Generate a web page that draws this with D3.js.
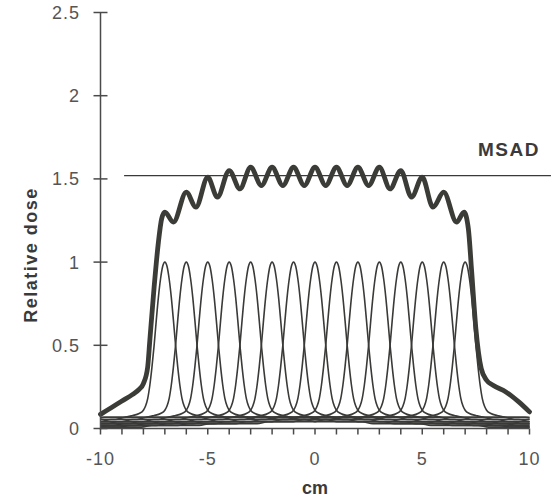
<!DOCTYPE html>
<html><head><meta charset="utf-8">
<script src="https://cdn.jsdelivr.net/npm/d3@7/dist/d3.min.js"></script>
<style>
body{margin:0;background:#fff;}
svg{display:block;font-family:"Liberation Sans",Arial,sans-serif;}
</style></head>
<body>
<svg id="c" width="552" height="497"></svg>
<script>
// ---- data ----
const sliceCenters = [-7,-6,-5,-4,-3,-2,-1,0,1,2,3,4,5,6,7];
// single-slice profile (one side, symmetric), distance from centre in cm
const profileOffsets = [0, 0.1, 0.2, 0.3, 0.4, 0.5, 0.6, 0.7, 0.8, 0.9, 1.0, 1.2, 1.5, 1.9];
const profileValues  = [1.0, 0.975, 0.9, 0.79, 0.65, 0.5, 0.37, 0.26, 0.18, 0.135, 0.11, 0.09, 0.078, 0.068];
// scatter-tail staircase: plateau start, plateau end (cm from centre), level
const tailStart = [1.9, 4.3, 7.0, 9.7, 12.4, 15.1];
const tailEnd   = [3.8, 6.5, 9.2, 11.9, 14.6, 18.0];
const tailLevel = [0.068, 0.054, 0.041, 0.029, 0.018, 0.008];
// multiple-scan (summed) dose profile
const sumX = [-10,-9.5,-9,-8.5,-8.2,-8.0,-7.8,-7.7,-7.5,-7.3,-7.15,-7.0,-6.6,-6.0,-5.55,-5.0,-4.55,-4.0,-3.5,-3.0,-2.5,-2,-1.5,-1,-0.5,0,0.5,1,1.5,2,2.5,3,3.5,4,4.5,5,5.5,6,6.6,6.95,7.15,7.3,7.5,7.75,8.0,8.3,8.9,9.5,10];
const sumY = [0.085,0.125,0.165,0.205,0.235,0.27,0.37,0.53,0.85,1.12,1.26,1.30,1.24,1.42,1.33,1.51,1.39,1.55,1.44,1.57,1.46,1.57,1.46,1.57,1.46,1.57,1.46,1.57,1.46,1.57,1.46,1.57,1.44,1.55,1.39,1.51,1.33,1.42,1.24,1.30,1.2,0.95,0.6,0.36,0.29,0.26,0.22,0.16,0.10];
const msad = 1.52;
const msadRange = [-8.9, 11];
const xTicks = [-10,-5,0,5,10];
const xMinorTicks = d3.range(-10, 11, 1);
const yTicks = [0,0.5,1,1.5,2,2.5];
const yTickLabels = ["0","0.5","1","1.5","2","2.5"];

// ---- drawing ----
const svg = d3.select("#c");
const x = d3.scaleLinear().domain([-10,10]).range([100.5,529.5]);
const y = d3.scaleLinear().domain([0,2.5]).range([428.5,12.5]);
const ink = "#3a3a38";

svg.append("defs").append("clipPath").attr("id","plot")
  .append("rect").attr("x",x(-10)).attr("y",0).attr("width",x(10)-x(-10)).attr("height",y(0)+1);

// one-sided profile incl. staircase tails
const half = profileOffsets.map((o,i)=>[o, profileValues[i]]);
tailStart.forEach((s,i)=>{
  if (i>0) half.push([s, tailLevel[i]]);
  half.push([tailEnd[i], tailLevel[i]]);
});
const full = half.slice(1).map(d=>[-d[0], d[1]]).reverse().concat(half);

const g = svg.append("g").attr("clip-path","url(#plot)");
const pline = d3.line().x(d=>x(d[0])).y(d=>y(d[1])).curve(d3.curveMonotoneX);
sliceCenters.forEach(c=>{
  g.append("path").datum(full.map(d=>[d[0]+c, d[1]]))
    .attr("d", pline).attr("fill","none").attr("stroke",ink).attr("stroke-width",1.6);
});

// summed profile
svg.append("path").datum(sumX.map((v,i)=>[v,sumY[i]]))
  .attr("d", pline).attr("fill","none").attr("stroke","#3b3b37").attr("stroke-width",4.8)
  .attr("stroke-linejoin","round").attr("stroke-linecap","round");

// MSAD line
svg.append("line").attr("x1",x(msadRange[0])).attr("x2",x(msadRange[1]))
  .attr("y1",y(msad)).attr("y2",y(msad)).attr("stroke",ink).attr("stroke-width",1.3);
svg.append("text").attr("x",509).attr("y",y(1.64)).attr("text-anchor","middle")
  .attr("font-size",19).attr("font-weight","bold").attr("letter-spacing",1.5).attr("fill","#3a3a3a").text("MSAD");

// axes
const axColor = "#4a4a4a";
svg.append("line").attr("x1",x(-10)).attr("x2",x(-10)).attr("y1",y(2.5)).attr("y2",y(0)+1).attr("stroke",axColor).attr("stroke-width",1.5);
svg.append("line").attr("x1",x(-10)).attr("x2",x(10)).attr("y1",y(0)).attr("y2",y(0)).attr("stroke",axColor).attr("stroke-width",1.5);
yTicks.forEach((t,i)=>{
  svg.append("line").attr("x1",x(-10)-7).attr("x2",x(-10)+7).attr("y1",y(t)).attr("y2",y(t)).attr("stroke",axColor).attr("stroke-width",1.5);
  svg.append("text").attr("x",80).attr("y",y(t)).attr("dy","0.36em").attr("text-anchor","end")
    .attr("font-size",18).attr("letter-spacing",1).attr("fill","#555").text(yTickLabels[i]);
});
xMinorTicks.forEach(t=>{
  svg.append("line").attr("x1",x(t)).attr("x2",x(t)).attr("y1",y(0)).attr("y2",y(0)+6).attr("stroke",axColor).attr("stroke-width",1.5);
});
xTicks.forEach(t=>{
  svg.append("text").attr("x",x(t)).attr("y",465).attr("text-anchor","middle")
    .attr("font-size",18).attr("letter-spacing",1).attr("fill","#555").text(t);
});
svg.append("text").attr("x",x(0)).attr("y",494).attr("text-anchor","middle")
  .attr("font-size",18).attr("font-weight","bold").attr("fill","#3a3a3a").text("cm");
svg.append("text").attr("transform","translate(37,255) rotate(-90)").attr("text-anchor","middle")
  .attr("font-size",18).attr("font-weight","bold").attr("letter-spacing",1.5).attr("fill","#3a3a3a").text("Relative dose");
</script>
</body></html>
